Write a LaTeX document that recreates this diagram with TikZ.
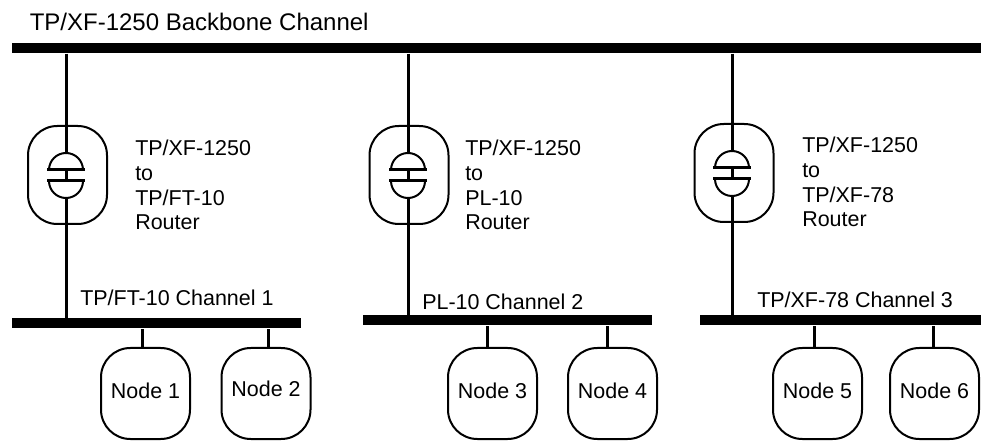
\documentclass[tikz,border=0pt]{standalone}
\usepackage{fontspec}
\setmainfont{Liberation Sans}
\usetikzlibrary{positioning}
\tikzset{gate/.pic={
    \draw[line width=1.5pt] (-12.75pt,0pt) arc[start angle=180,end angle=0,radius=12.75pt];
    \draw[line width=1.5pt] (-12.75pt,-8.25pt) arc[start angle=180,end angle=360,radius=12.75pt];
    \draw[line width=2.25pt] (-14.25pt,0pt) -- (14.25pt,0pt);
    \draw[line width=2.25pt] (-14.25pt,-8.25pt) -- (14.25pt,-8.25pt);
    \draw[line width=2.25pt] (0pt,0pt) -- (0pt,-8.25pt);
    \coordinate (-top) at (0pt,12.75pt);
    \coordinate (-bottom) at (0pt,-21pt);
}}
\begin{document}
\begin{tikzpicture}[x=.75pt,y=-.75pt,
    txt/.style = {font=\fontsize{16.1}{18.5}\selectfont, inner sep=0pt, align=left},
    bus/.style = {fill=black, inner sep=0pt, minimum height=7.5pt, anchor=north west},
    wire/.style = {line width=2.25pt},
    router/.style = {draw=black, line width=1.5pt, rounded corners=22pt, minimum width=59.25pt, minimum height=73.5pt, inner sep=0pt},
    device/.style = {txt, draw=black, line width=1.5pt, rounded corners=22pt, minimum width=66.75pt, minimum height=68.25pt, align=center, text height=6.75pt, text depth=0pt}]
      \useasboundingbox (0,0) rectangle (981,441);

      \node[txt, font=\fontsize{18}{20}\selectfont, anchor=base west] (backbonet) at (29.5,31) {TP/XF-1250 Backbone Channel};
      \node[bus, minimum width=726.75pt] (backbone) at (12,43) {};

      \node[router] (routera) at (67.5,175) {};
      \node[router] (routerb) at (409,175) {};
      \node[router] (routerc) at (734,173) {};

      \pic (gatea) at (66,170) {gate};
      \pic (gateb) at (408,170) {gate};
      \pic (gatec) at (732,168) {gate};

      \node[txt, anchor=north west] (routerat) at (135,140) {TP/XF-1250\\to\\TP/FT-10\\Router};
      \node[txt, anchor=north west] (routerbt) at (465,140) {TP/XF-1250\\to\\PL-10\\Router};
      \node[txt, anchor=north west] (routerct) at (802,137) {TP/XF-1250\\to\\TP/XF-78\\Router};

      \node[bus, minimum width=216.75pt] (channela) at (12,318) {};
      \node[bus, minimum width=216.75pt] (channelb) at (363,315) {};
      \node[bus, minimum width=210.75pt] (channelc) at (700,315) {};

      \node[txt, anchor=base west] (channelat) at (80,306) {TP/FT-10 Channel 1};
      \node[txt, anchor=base west] (channelbt) at (422,310) {PL-10 Channel 2};
      \node[txt, anchor=base west] (channelct) at (757,308) {TP/XF-78 Channel 3};

      \node[device] (node1) at (145.5,393.5) {Node 1};
      \node[device, text height=3.75pt] (node2) at (266,393.5) {Node 2};
      \node[device] (node3) at (492.5,393.5) {Node 3};
      \node[device] (node4) at (612.5,393.5) {Node 4};
      \node[device] (node5) at (817.5,393.5) {Node 5};
      \node[device] (node6) at (934.5,393.5) {Node 6};

      \draw[wire] (gatea-top |- backbone.south) -- (gatea-top);
      \draw[wire] (gateb-top |- backbone.south) -- (gateb-top);
      \draw[wire] (gatec-top |- backbone.south) -- (gatec-top);
      \draw[wire] (gatea-bottom) -- (gatea-bottom |- channela.north);
      \draw[wire] (gateb-bottom) -- (gateb-bottom |- channelb.north);
      \draw[wire] (gatec-bottom) -- (gatec-bottom |- channelc.north);

      \draw[wire] ([xshift=-1.9pt]node1.north) -- ([xshift=-1.9pt]node1.north |- channela.south);
      \draw[wire] ([xshift=1.5pt]node2.north) -- ([xshift=1.5pt]node2.north |- channela.south);
      \draw[wire] ([xshift=-4.1pt]node3.north) -- ([xshift=-4.1pt]node3.north |- channelb.south);
      \draw[wire] ([xshift=-4.1pt]node4.north) -- ([xshift=-4.1pt]node4.north |- channelb.south);
      \draw[wire] ([xshift=-2.6pt]node5.north) -- ([xshift=-2.6pt]node5.north |- channelc.south);
      \draw[wire] ([xshift=-.4pt]node6.north) -- ([xshift=-.4pt]node6.north |- channelc.south);
\end{tikzpicture}
\end{document}
